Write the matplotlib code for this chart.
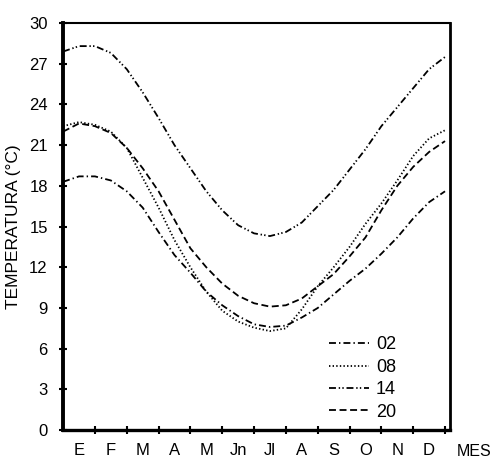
import numpy as np
from matplotlib import pyplot as plt

# posicion en meses (0 = inicio de enero, 12 = fin de diciembre)
mes_pos = [0, 0.5, 1, 1.5, 2, 2.5, 3, 3.5, 4, 4.5, 5, 5.5, 6,
           6.5, 7, 7.5, 8, 8.5, 9, 9.5, 10, 10.5, 11, 11.5, 12]

t02 = [18.3, 18.7, 18.7, 18.4, 17.6, 16.4, 14.6, 12.9, 11.6, 10.2, 9.2, 8.4, 7.8,
       7.6, 7.7, 8.3, 9.0, 10.0, 11.0, 11.9, 13.0, 14.2, 15.6, 16.8, 17.6]
t08 = [22.4, 22.7, 22.5, 22.0, 20.8, 18.6, 16.4, 14.0, 12.0, 10.2, 8.8, 8.0, 7.55,
       7.3, 7.5, 8.9, 10.6, 12.0, 13.5, 15.2, 16.7, 18.4, 20.2, 21.5, 22.1]
t14 = [27.9, 28.3, 28.3, 27.8, 26.6, 24.9, 23.0, 21.0, 19.3, 17.6, 16.2, 15.1, 14.5,
       14.3, 14.6, 15.3, 16.5, 17.7, 19.2, 20.7, 22.4, 23.8, 25.2, 26.6, 27.5]
t20 = [22.0, 22.6, 22.4, 21.9, 20.8, 19.3, 17.6, 15.5, 13.4, 12.0, 10.8, 9.9, 9.35,
       9.1, 9.2, 9.7, 10.6, 11.5, 12.8, 14.2, 16.2, 18.0, 19.4, 20.5, 21.3]

meses = ["E", "F", "M", "A", "M", "Jn", "Jl", "A", "S", "O", "N", "D"]
horas = ["02", "08", "14", "20"]
y_ticks = [0, 3, 6, 9, 12, 15, 18, 21, 24, 27, 30]


def main():
    plt.rcParams['font.family'] = ['Liberation Sans', 'DejaVu Sans']
    plt.rcParams['lines.scale_dashes'] = False

    fig = plt.figure(figsize=(4.93, 4.61), dpi=100)
    ax = fig.add_axes([0.128, 0.067, 0.785, 0.883])

    estilos = [(0, (5, 2.2, 1, 2.2)),
               (0, (1, 1.6)),
               (0, (5, 2, 1, 1.6, 1, 2)),
               (0, (5, 2.6))]
    for serie, hora, ls in zip([t02, t08, t14, t20], horas, estilos):
        ax.plot(mes_pos, serie, color='k', lw=1.3, ls=ls, label=hora)

    ax.set_xlim(0, 12.16)
    ax.set_ylim(0, 30)

    ax.set_yticks(y_ticks)
    ax.set_yticklabels([str(v) for v in y_ticks], fontsize=12)
    ax.set_xticks(np.arange(1, 13))
    ax.set_xticklabels([])
    ax.set_xticks(np.arange(0.5, 12, 1), minor=True)
    ax.set_xticklabels(meses, minor=True, fontsize=12)
    ax.tick_params(axis='both', which='major', direction='inout',
                   length=6, width=1.5, color='k')
    ax.tick_params(axis='x', which='minor', length=0, pad=9)
    ax.tick_params(axis='y', pad=8)

    ax.spines['left'].set_linewidth(2.8)
    ax.spines['bottom'].set_linewidth(2.4)
    ax.spines['top'].set_linewidth(1.5)
    ax.spines['right'].set_linewidth(2.0)

    ax.set_ylabel("TEMPERATURA (°C)", fontsize=12.5, labelpad=6)
    ax.text(12.9, -1.55, "MES", fontsize=11.5, ha='center', va='center',
            clip_on=False)

    ax.legend(loc='lower right', bbox_to_anchor=(0.893, -0.008), frameon=False,
              fontsize=13, handlelength=2.2, handletextpad=0.4,
              labelspacing=0.3, borderpad=0.2)

    plt.savefig('out.png', dpi=100)


if __name__ == "__main__":
    main()
